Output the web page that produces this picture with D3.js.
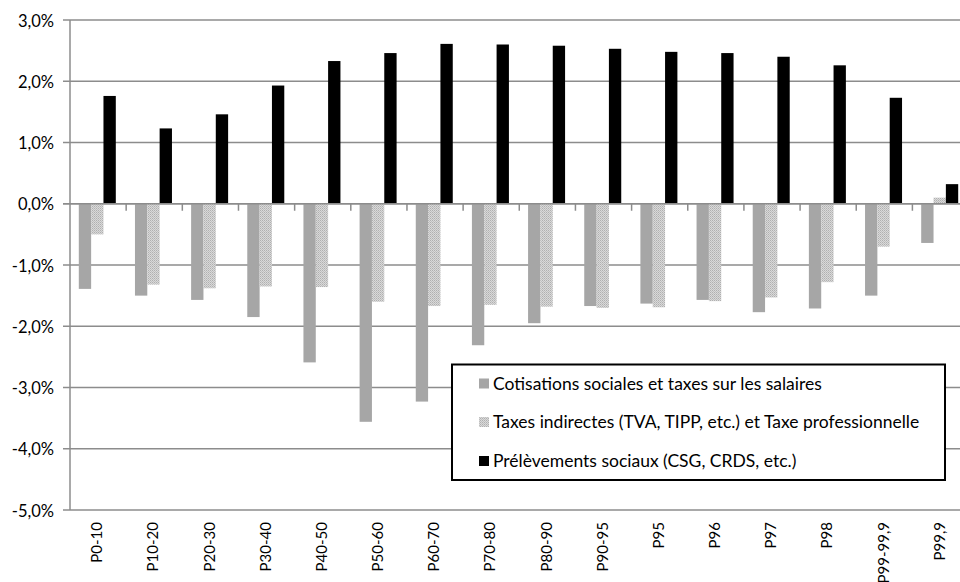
<!DOCTYPE html>
<html><head><meta charset="utf-8">
<script src="https://cdn.jsdelivr.net/npm/d3@7/dist/d3.min.js"></script>
<style>body{margin:0;background:#fff}svg{display:block}text{font-family:Lato,"Open Sans",sans-serif}</style>
</head><body><svg id="c" width="960" height="582"></svg>
<script>
const categories = ["P0-10","P10-20","P20-30","P30-40","P40-50","P50-60","P60-70","P70-80","P80-90","P90-95","P95","P96","P97","P98","P99-99,9","P99,9"];
const seriesNames = ["Cotisations sociales et taxes sur les salaires","Taxes indirectes (TVA, TIPP, etc.) et Taxe professionnelle","Prélèvements sociaux (CSG, CRDS, etc.)"];
const cotisations = [-1.39,-1.50,-1.57,-1.85,-2.59,-3.56,-3.23,-2.31,-1.95,-1.67,-1.63,-1.57,-1.77,-1.71,-1.50,-0.64];
const taxesIndirectes = [-0.50,-1.32,-1.38,-1.35,-1.36,-1.60,-1.67,-1.65,-1.68,-1.70,-1.69,-1.59,-1.53,-1.28,-0.70,0.10];
const prelevements = [1.76,1.23,1.46,1.93,2.33,2.46,2.61,2.60,2.58,2.53,2.48,2.46,2.40,2.26,1.73,0.32];
const yTicks = [3,2,1,0,-1,-2,-3,-4,-5];

const svg = d3.select("#c");
const defs = svg.append("defs");
const pat = defs.append("pattern").attr("id","dots").attr("patternUnits","userSpaceOnUse").attr("width",2).attr("height",2);
pat.append("rect").attr("width",2).attr("height",2).attr("fill","#d9d9d9");
pat.append("rect").attr("width",1).attr("height",1).attr("fill","#b0b0b0");
pat.append("rect").attr("x",1).attr("y",1).attr("width",1).attr("height",1).attr("fill","#c0c0c0");

const fills = ["#a6a6a6","url(#dots)","#000000"];
const series = [cotisations, taxesIndirectes, prelevements];

const mLeft = 70, mTop = 20, mBottom = 510;
const y = d3.scaleLinear().domain([-5,3]).range([mBottom, mTop]);
const x0 = d3.scaleBand().domain(categories).range([mLeft, mLeft + 16*56.16]);
const x1 = d3.scaleBand().domain(d3.range(3)).range([8.8, 45.8]);

// gridlines
svg.append("g").selectAll("line").data(yTicks).join("line")
  .attr("x1", mLeft-7).attr("x2", 960).attr("y1", d=>y(d)).attr("y2", d=>y(d))
  .attr("stroke","#8c8c8c").attr("stroke-width",1.5);

// y labels
svg.append("g").selectAll("text").data(yTicks).join("text")
  .attr("x", 54).attr("y", d=>y(d)).attr("dy","0.4em").attr("text-anchor","end")
  .attr("font-size",16.5).attr("fill","#000")
  .text(d=>d3.format(".1f")(d).replace(".",",").replace("−","-")+"%");

// bars
const g = svg.append("g");
categories.forEach((c,i)=>{
  series.forEach((s,j)=>{
    const v = s[i];
    g.append("rect")
      .attr("x", x0(c)+x1(j)).attr("width", x1.bandwidth())
      .attr("y", y(Math.max(0,v))).attr("height", Math.abs(y(v)-y(0)))
      .attr("fill", fills[j]);
  });
});

// y axis line
svg.append("line").attr("x1",mLeft).attr("x2",mLeft).attr("y1",mTop).attr("y2",mBottom)
  .attr("stroke","#8c8c8c").attr("stroke-width",1.5);
// zero axis
svg.append("line").attr("x1",mLeft-7).attr("x2",960).attr("y1",y(0)).attr("y2",y(0))
  .attr("stroke","#8c8c8c").attr("stroke-width",1.5);
// x ticks at band boundaries
svg.append("g").selectAll("line").data(categories.slice(1)).join("line")
  .attr("x1", d=>x0(d)).attr("x2", d=>x0(d)).attr("y1", y(0)).attr("y2", y(0)+7)
  .attr("stroke","#8c8c8c").attr("stroke-width",1.5);

// x labels
svg.append("g").selectAll("text").data(categories).join("text")
  .attr("transform", d=>`translate(${x0(d)+x0.bandwidth()/2-1},522) rotate(-90)`)
  .attr("text-anchor","end").attr("dy","0.35em").attr("font-size",15).attr("fill","#000")
  .text(d=>d);

// legend
const lg = svg.append("g");
lg.append("rect").attr("x",452).attr("y",364.5).attr("width",493).attr("height",115.5)
  .attr("fill","#fff").attr("stroke","#000").attr("stroke-width",2);
const rows = [383.5, 422, 461];
seriesNames.forEach((n,j)=>{
  lg.append("rect").attr("x",479).attr("y",rows[j]-5).attr("width",10).attr("height",10).attr("fill",fills[j]);
  lg.append("text").attr("x",493).attr("y",rows[j]).attr("dy","0.35em").attr("font-size",17.5).attr("fill","#000").text(n);
});
</script></body></html>
